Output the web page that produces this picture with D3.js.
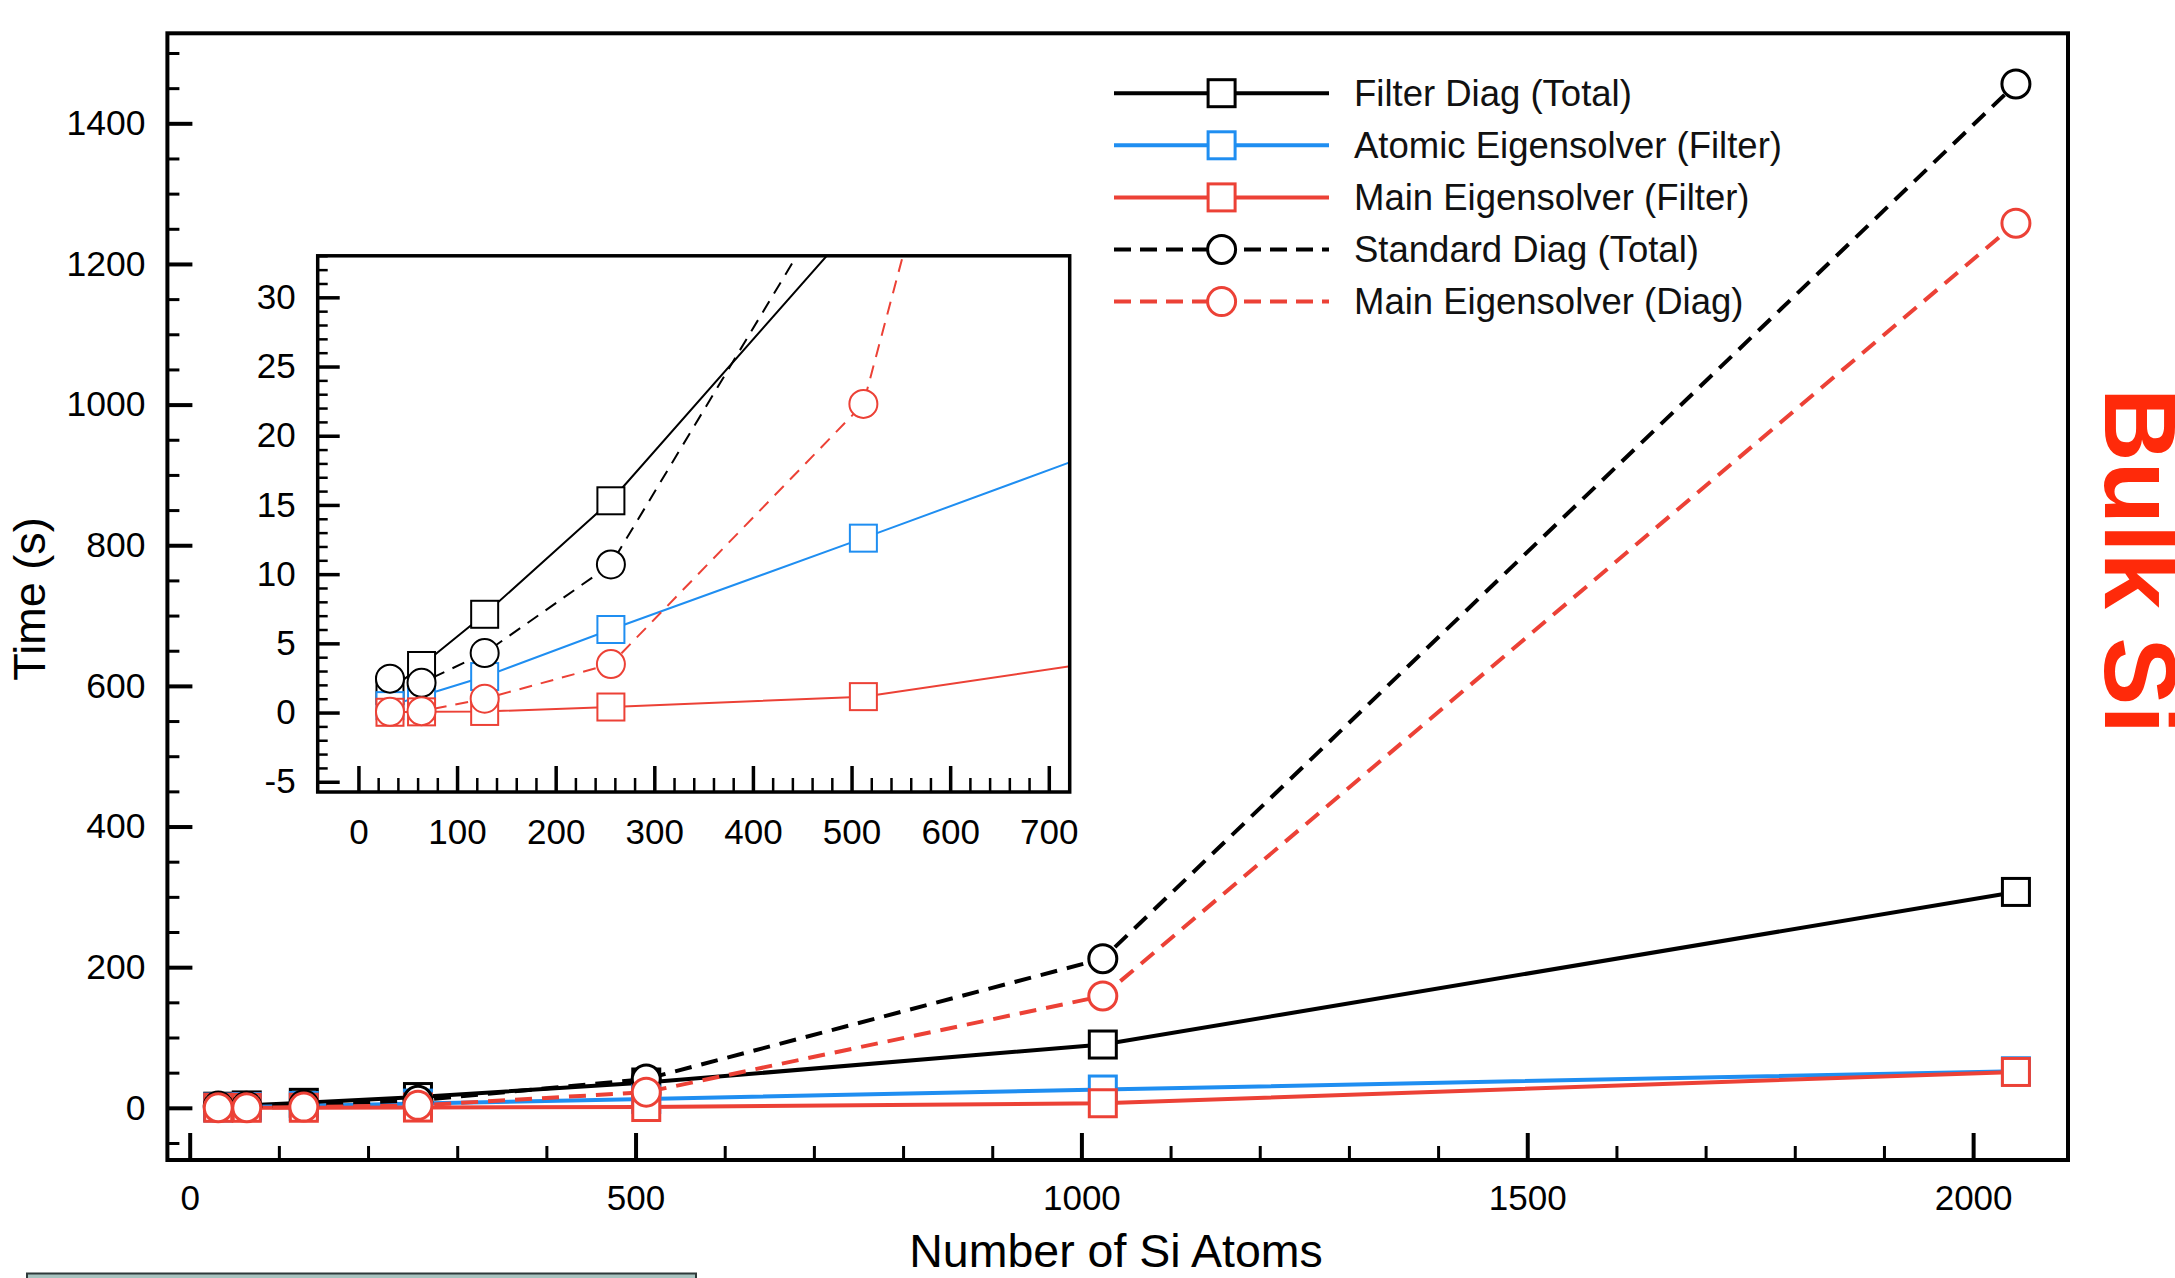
<!DOCTYPE html>
<html>
<head>
<meta charset="utf-8">
<script src="https://cdn.jsdelivr.net/npm/d3@7"></script>
<style>
  body { margin: 0; background: #fff; }
  text { font-family: "Liberation Sans", Arial, Helvetica, sans-serif; }
</style>
</head>
<body>
<svg id="chart" width="2175" height="1278"></svg>
<script>
// ---- data: timings (s) versus number of Si atoms ----
const atoms = [32, 64, 128, 256, 512, 1024, 2048];
const filterDiagTotal   = [1.6, 3.4, 7.1, 15.3, 36, 90, 307];
const atomicEigFilter   = [0.5, 1.2, 2.6, 6.0, 12.6, 26, 52];
const mainEigFilter     = [0.02, 0.05, 0.08, 0.4, 1.15, 6.5, 51];
const standardDiagTotal = [2.45, 2.15, 4.3, 10.7, 41, 212, 1456];
const mainEigDiag       = [0.05, 0.1, 1.0, 3.5, 22.3, 159, 1258];

const seriesNames = [
  "Filter Diag (Total)",
  "Atomic Eigensolver (Filter)",
  "Main Eigensolver (Filter)",
  "Standard Diag (Total)",
  "Main Eigensolver (Diag)"
];
const seriesValues = [filterDiagTotal, atomicEigFilter, mainEigFilter, standardDiagTotal, mainEigDiag];

// tick labels
const mainXTicks = [0, 500, 1000, 1500, 2000];
const mainYTicks = [0, 200, 400, 600, 800, 1000, 1200, 1400];
const insetXTicks = [0, 100, 200, 300, 400, 500, 600, 700];
const insetYTicks = [-5, 0, 5, 10, 15, 20, 25, 30];

const xTitle = "Number of Si Atoms";
const yTitle = "Time (s)";
const sideLabel = "Bulk Si";

// ---- styles ----
const BLACK = "#000000", BLUE = "#1f8ef1", RED = "#ec4136";
const seriesStyle = [
  { color: BLACK, dashed: false, marker: "square" },
  { color: BLUE,  dashed: false, marker: "square" },
  { color: RED,   dashed: false, marker: "square" },
  { color: BLACK, dashed: true,  marker: "circle" },
  { color: RED,   dashed: true,  marker: "circle" }
];

const series = seriesNames.map((name, i) => ({
  name,
  points: atoms.map((a, j) => [a, seriesValues[i][j]]),
  ...seriesStyle[i]
}));

const plainNumber = d => String(d);

const svg = d3.select("#chart");

// white page
svg.append("rect").attr("width", 2175).attr("height", 1278).attr("fill", "#fff");

// ---- main panel ----
const M = { left: 167.4, right: 2068, top: 33.3, bottom: 1160 };
const x = d3.scaleLinear().domain([-25, 2106.4]).range([M.left, M.right]);
const y = d3.scaleLinear().domain([-74.2, 1528]).range([M.bottom, M.top]);

function drawSeries(g, xs, ys, opt) {
  const line = d3.line().x(d => xs(d[0])).y(d => ys(d[1]));
  series.forEach(s => {
    g.append("path")
      .datum(s.points)
      .attr("d", line)
      .attr("fill", "none")
      .attr("stroke", s.color)
      .attr("stroke-width", opt.lw)
      .attr("stroke-dasharray", s.dashed ? opt.dash : null);
    const mk = g.append("g");
    s.points.forEach(p => {
      if (s.marker === "square") {
        mk.append("rect")
          .attr("x", xs(p[0]) - opt.sq / 2).attr("y", ys(p[1]) - opt.sq / 2)
          .attr("width", opt.sq).attr("height", opt.sq)
          .attr("fill", "#fff").attr("stroke", s.color).attr("stroke-width", opt.mw);
      } else {
        mk.append("circle")
          .attr("cx", xs(p[0])).attr("cy", ys(p[1])).attr("r", opt.r)
          .attr("fill", "#fff").attr("stroke", s.color).attr("stroke-width", opt.mw);
      }
    });
  });
}

function styleAxis(g, fontSize, majorW) {
  g.select(".domain").remove();
  g.selectAll(".tick line").attr("stroke", "#000").attr("stroke-width", majorW);
  g.selectAll(".tick text").attr("fill", "#000").attr("font-size", fontSize);
}

// main axes: major and minor ticks pointing inward
const mainXMinor = d3.range(0, 2101, 100).filter(v => v % 500 !== 0 && x(v) < M.right - 6);
const mainYMinor = d3.range(-50, 1501, 50).filter(v => v % 200 !== 0);

const gxMinor = svg.append("g").attr("transform", `translate(0,${M.bottom})`)
  .call(d3.axisBottom(x).tickValues(mainXMinor).tickSize(-14).tickFormat(""));
styleAxis(gxMinor, 35, 3);
const gx = svg.append("g").attr("transform", `translate(0,${M.bottom})`)
  .call(d3.axisBottom(x).tickValues(mainXTicks).tickSize(-27).tickPadding(25).tickFormat(plainNumber));
styleAxis(gx, 35, 4);

const gyMinor = svg.append("g").attr("transform", `translate(${M.left},0)`)
  .call(d3.axisLeft(y).tickValues(mainYMinor).tickSize(-12).tickFormat(""));
styleAxis(gyMinor, 35, 3);
const gy = svg.append("g").attr("transform", `translate(${M.left},0)`)
  .call(d3.axisLeft(y).tickValues(mainYTicks).tickSize(-25).tickPadding(22).tickFormat(plainNumber));
styleAxis(gy, 35.5, 4);

const mainPlot = svg.append("g");
drawSeries(mainPlot, x, y, { lw: 4, dash: "17,10", sq: 27, r: 14, mw: 3 });

svg.append("rect")
  .attr("x", M.left).attr("y", M.top)
  .attr("width", M.right - M.left).attr("height", M.bottom - M.top)
  .attr("fill", "none").attr("stroke", "#000").attr("stroke-width", 4);

// axis titles
svg.append("text")
  .attr("x", 1116).attr("y", 1267)
  .attr("text-anchor", "middle").attr("font-size", 46.5)
  .text(xTitle);
svg.append("text")
  .attr("transform", "translate(45,599) rotate(-90)")
  .attr("text-anchor", "middle").attr("font-size", 45)
  .text(yTitle);

// ---- inset: zoom on small systems ----
const I = { left: 317.7, right: 1069.7, top: 255.8, bottom: 792 };
const xi = d3.scaleLinear().domain([-41.3, 721.2]).range([I.left, I.right]);
const yi = d3.scaleLinear().domain([-5.74, 33.0]).range([I.bottom, I.top]);

svg.append("rect")
  .attr("x", I.left).attr("y", I.top)
  .attr("width", I.right - I.left).attr("height", I.bottom - I.top)
  .attr("fill", "#fff");

svg.append("defs").append("clipPath").attr("id", "insetClip")
  .append("rect")
  .attr("x", I.left).attr("y", I.top)
  .attr("width", I.right - I.left).attr("height", I.bottom - I.top);

const insetXMinor = d3.range(0, 701, 20).filter(v => v % 100 !== 0);
const insetYMinor = d3.range(-5, 33.5, 1).filter(v => v % 5 !== 0);

const gixMinor = svg.append("g").attr("transform", `translate(0,${I.bottom})`)
  .call(d3.axisBottom(xi).tickValues(insetXMinor).tickSize(-14).tickFormat(""));
styleAxis(gixMinor, 35, 2.5);
const gix = svg.append("g").attr("transform", `translate(0,${I.bottom})`)
  .call(d3.axisBottom(xi).tickValues(insetXTicks).tickSize(-26).tickPadding(27).tickFormat(plainNumber));
styleAxis(gix, 35, 3.5);

const giyMinor = svg.append("g").attr("transform", `translate(${I.left},0)`)
  .call(d3.axisLeft(yi).tickValues(insetYMinor).tickSize(-10).tickFormat(""));
styleAxis(giyMinor, 35, 2.5);
const giy = svg.append("g").attr("transform", `translate(${I.left},0)`)
  .call(d3.axisLeft(yi).tickValues(insetYTicks).tickSize(-22).tickPadding(22).tickFormat(plainNumber));
styleAxis(giy, 35, 3.5);

const insetPlot = svg.append("g").attr("clip-path", "url(#insetClip)");
drawSeries(insetPlot, xi, yi, { lw: 2, dash: "13,9", sq: 27, r: 14, mw: 2 });

svg.append("rect")
  .attr("x", I.left).attr("y", I.top)
  .attr("width", I.right - I.left).attr("height", I.bottom - I.top)
  .attr("fill", "none").attr("stroke", "#000").attr("stroke-width", 3.5);

// ---- legend ----
const legend = svg.append("g");
series.forEach((s, i) => {
  const ry = 93.2 + i * 52.1;
  legend.append("line")
    .attr("x1", 1114).attr("x2", 1329).attr("y1", ry).attr("y2", ry)
    .attr("stroke", s.color).attr("stroke-width", 4)
    .attr("stroke-dasharray", s.dashed ? "17,9" : null);
  if (s.marker === "square") {
    legend.append("rect")
      .attr("x", 1221.6 - 13.5).attr("y", ry - 13.5)
      .attr("width", 27).attr("height", 27)
      .attr("fill", "#fff").attr("stroke", s.color).attr("stroke-width", 3);
  } else {
    legend.append("circle")
      .attr("cx", 1221.6).attr("cy", ry).attr("r", 14)
      .attr("fill", "#fff").attr("stroke", s.color).attr("stroke-width", 3);
  }
  legend.append("text")
    .attr("x", 1354).attr("y", ry + 12.5)
    .attr("font-size", 36.5).attr("fill", "#111")
    .text(s.name);
});

// ---- side label ----
svg.append("text")
  .attr("transform", "translate(2105,388) rotate(90)")
  .attr("font-size", 102).attr("font-weight", "bold")
  .attr("fill", "#ff2a0a")
  .text(sideLabel);

// panel edge peeking in at the bottom
svg.append("rect")
  .attr("x", 27).attr("y", 1273.5).attr("width", 669).attr("height", 20)
  .attr("fill", "#a7c3bf").attr("stroke", "#2f3a3a").attr("stroke-width", 2);
</script>
</body>
</html>
